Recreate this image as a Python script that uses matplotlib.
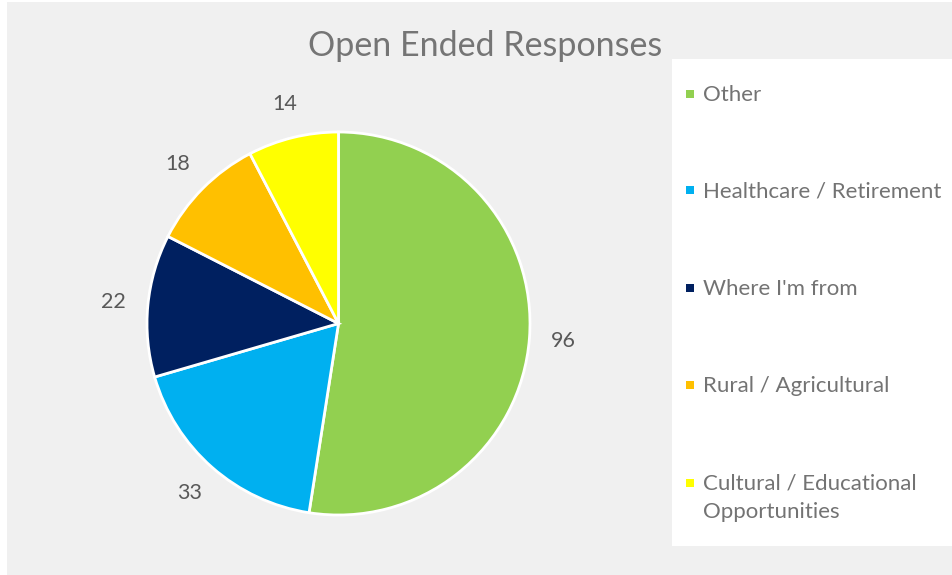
import numpy as np
import matplotlib
matplotlib.use("Agg")
import matplotlib.pyplot as plt
from matplotlib.patches import Rectangle

title = "Open Ended Responses"
categories = ["Other", "Healthcare / Retirement", "Where I'm from",
              "Rural / Agricultural", "Cultural / Educational\nOpportunities"]
values = [96, 33, 22, 18, 14]
colors = ["#92D050", "#00B0F0", "#002060", "#FFC000", "#FFFF00"]

plt.rcParams['font.family'] = ['Lato', 'DejaVu Sans']

W, H = 952, 575
fig = plt.figure(figsize=(W / 100, H / 100), dpi=100)
fig.patch.set_facecolor("white")

# gray chart area
fig.patches.append(Rectangle((7 / W, 0), 1 - 7 / W, 1 - 2 / H, transform=fig.transFigure,
                             facecolor="#F0F0F0", edgecolor="none", zorder=0))
# white legend box
fig.patches.append(Rectangle((672 / W, (H - 546) / H), (952 - 672) / W, (546 - 59) / H,
                             transform=fig.transFigure, facecolor="white",
                             edgecolor="none", zorder=1))

cx, cy, r = 338.5, 323.5, 191.5
ax = fig.add_axes([(cx - r) / W, (H - cy - r) / H, 2 * r / W, 2 * r / H])
ax.set_zorder(2)
wedges, _ = ax.pie(values, colors=colors, startangle=90, counterclock=False,
                   radius=1.0, wedgeprops=dict(edgecolor="white", linewidth=2))
ax.set_xlim(-1, 1)
ax.set_ylim(-1, 1)
ax.set_aspect("equal")
ax.axis("off")

for w, v in zip(wedges, values):
    ang = np.deg2rad((w.theta1 + w.theta2) / 2)
    d = 1.18
    ax.text(d * np.cos(ang), d * np.sin(ang), str(v), ha="center", va="center",
            fontsize=15.5, color="#595959", clip_on=False)

fig.text(485 / W, 1 - 46 / H, title, ha="center", va="center",
         fontsize=24.5, color="#757575", zorder=3)

ys = [94, 190, 288, 385, 483]
line_gap = 28
for lab, col, y in zip(categories, colors, ys):
    fig.patches.append(Rectangle((686 / W, 1 - (y + 4) / H), 8 / W, 8 / H,
                                 transform=fig.transFigure, facecolor=col,
                                 edgecolor="none", zorder=3))
    for i, line in enumerate(lab.split("\n")):
        fig.text(703 / W, 1 - (y + 7 + i * line_gap) / H, line, ha="left",
                 va="baseline", fontsize=16, color="#737373", zorder=3)

fig.savefig("out.png", dpi=100)
